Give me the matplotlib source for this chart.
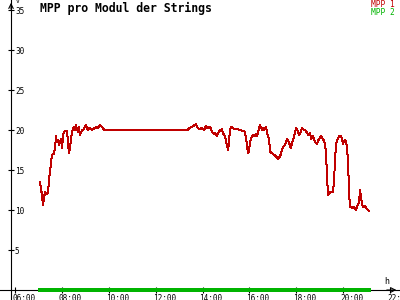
import matplotlib
matplotlib.use("Agg")
import matplotlib.pyplot as plt
import matplotlib.transforms as mtransforms

# MPP 1 string voltage per module (hour of day, volts)
mpp1_hours = [7.07, 7.11, 7.15, 7.19, 7.24, 7.28, 7.37, 7.41, 7.45, 7.49,
              7.54, 7.58, 7.66, 7.71, 7.75, 7.79, 7.83, 7.88, 7.92, 7.96,
              8.01, 8.05, 8.09, 8.22, 8.26, 8.30, 8.35, 8.43, 8.52, 8.56,
              8.60, 8.65, 8.69, 8.73, 8.77, 8.86, 8.90, 8.99, 9.03, 9.11,
              9.20, 9.28, 9.37, 9.46, 9.54, 9.63, 9.71, 9.80, 10.05, 13.38,
              13.42, 13.47, 13.55, 13.72, 13.81, 13.89, 13.98, 14.06, 14.15, 14.23,
              14.32, 14.40, 14.49, 14.53, 14.58, 14.62, 14.66, 14.75, 14.83, 14.87,
              14.96, 15.04, 15.09, 15.13, 15.17, 15.22, 15.30, 15.39, 15.47, 15.60,
              15.73, 15.81, 15.90, 15.94, 15.98, 16.03, 16.07, 16.15, 16.24, 16.28,
              16.32, 16.41, 16.45, 16.54, 16.58, 16.62, 16.71, 16.79, 16.84, 16.88,
              16.96, 17.05, 17.13, 17.22, 17.31, 17.43, 17.52, 17.60, 17.65, 17.73,
              17.77, 17.82, 17.90, 17.99, 18.03, 18.12, 18.20, 18.24, 18.33, 18.41,
              18.50, 18.59, 18.63, 18.71, 18.80, 18.88, 18.97, 19.05, 19.14, 19.23,
              19.27, 19.31, 19.35, 19.44, 19.57, 19.61, 19.65, 19.69, 19.74, 19.82,
              19.91, 19.95, 19.99, 20.03, 20.08, 20.12, 20.16, 20.21, 20.25, 20.29,
              20.38, 20.46, 20.51, 20.55, 20.59, 20.63, 20.68, 20.72, 20.76, 20.80,
              20.85, 20.93, 20.97, 21.06, 21.10]
mpp1_volts = [13.5, 12.4, 12.1, 10.6, 11.6, 12.2, 12.0, 12.2, 13.75, 14.8,
              16.0, 16.9, 17.0, 17.9, 19.2, 18.5, 18.75, 18.1, 18.5, 18.9,
              17.75, 19.4, 19.8, 19.9, 18.5, 17.1, 17.9, 19.8, 20.4, 20.0,
              20.6, 20.0, 19.8, 20.4, 19.4, 20.0, 20.0, 20.4, 20.6, 20.0,
              20.3, 20.0, 20.2, 20.4, 20.2, 20.6, 20.4, 20.0, 20.0, 20.0,
              20.2, 20.3, 20.4, 20.7, 20.2, 20.1, 20.3, 20.0, 20.5, 20.2,
              20.4, 19.8, 19.5, 19.6, 19.4, 19.2, 19.6, 20.0, 20.1, 19.6,
              19.2, 18.1, 17.5, 18.5, 20.0, 20.4, 20.2, 20.1, 20.1, 20.0,
              19.9, 19.8, 18.1, 17.1, 17.3, 18.5, 18.9, 19.4, 19.2, 19.5,
              19.2, 20.2, 20.6, 20.0, 20.2, 20.0, 20.4, 19.2, 18.9, 17.3,
              17.1, 16.9, 16.7, 16.4, 16.7, 17.9, 18.1, 18.9, 18.75, 18.1,
              17.7, 18.3, 19.2, 20.2, 20.1, 19.4, 19.8, 20.3, 20.0, 19.9,
              19.4, 19.6, 18.9, 19.2, 18.5, 18.3, 18.9, 19.2, 18.9, 18.3,
              16.9, 14.4, 11.9, 12.2, 12.3, 13.75, 16.0, 18.1, 18.75, 19.2,
              19.3, 18.9, 18.3, 18.5, 18.75, 18.5, 17.9, 16.0, 12.3, 10.4,
              10.3, 10.4, 10.1, 10.0, 10.5, 10.6, 11.0, 12.5, 11.6, 10.8,
              10.4, 10.5, 10.3, 10.0, 9.9]

# MPP 2 stays at zero the whole day
mpp2_hours = [7.07, 21.10]
mpp2_volts = [0.0, 0.0]

x_ticks = [6, 8, 10, 12, 14, 16, 18, 20, 22]
x_labels = ["06:00", "08:00", "10:00", "12:00", "14:00", "16:00", "18:00", "20:00", "22:"]
y_ticks = [5, 10, 15, 20, 25, 30, 35]

red = "#c00000"
green = "#00b400"
mono = "DejaVu Sans Mono"

fig = plt.figure(figsize=(4, 3), dpi=100)
fig.patch.set_facecolor("white")
ax = fig.add_axes([0, 0, 1, 1])
ax.set_facecolor("white")

ax.set_xlim(5.36, 22.425)
ax.set_ylim(-1.25, 36.25)

ax.plot(mpp2_hours, mpp2_volts, color=green, lw=1.6, antialiased=False, zorder=5)
ax.plot(mpp1_hours, mpp1_volts, color=red, lw=0.72, antialiased=False, zorder=4)

# axis lines through the origin, y labels on the right of the y axis
y_axis_x = 5.83
for side in ["top", "left"]:
    ax.spines[side].set_visible(False)
ax.spines["right"].set_position(("data", y_axis_x))
ax.spines["bottom"].set_position(("data", 0))
ax.spines["right"].set_linewidth(0.8)
ax.spines["bottom"].set_linewidth(0.8)
ax.yaxis.tick_right()

ax.set_yticks(y_ticks)
ax.set_yticklabels([str(v) for v in y_ticks])
ax.set_xticks(x_ticks)
ax.set_xticklabels(x_labels)
ax.tick_params(axis="both", direction="inout", length=4.5, width=0.8,
               labelsize=5.6, pad=0.6)
for lab in ax.get_yticklabels():
    lab.set_fontfamily(mono)
offset = mtransforms.ScaledTranslation(-3 / 100, 0, fig.dpi_scale_trans)
for lab in ax.get_xticklabels():
    lab.set_fontfamily(mono)
    lab.set_horizontalalignment("left")
    lab.set_transform(lab.get_transform() + offset)

# arrow heads
ax.annotate("", xy=(0.998, 0), xytext=(0.96, 0),
            xycoords=("axes fraction", "data"), textcoords=("axes fraction", "data"),
            arrowprops=dict(arrowstyle="->", lw=0.8, mutation_scale=8, color="black"))
ax.annotate("", xy=(y_axis_x, 1.0), xytext=(y_axis_x, 0.96),
            xycoords=("data", "axes fraction"), textcoords=("data", "axes fraction"),
            arrowprops=dict(arrowstyle="->", lw=0.8, mutation_scale=8, color="black"))

# unit labels
ax.text(16 / 400, 1 - 1.5 / 300, "V", transform=ax.transAxes, fontsize=4.5,
        family=mono, ha="left", va="center")
ax.text(387 / 400, 1 - 281 / 300, "h", transform=ax.transAxes, fontsize=6,
        family=mono, ha="center", va="center")

# title and legend
fig.text(40 / 400, 1 - 8 / 300, "MPP pro Modul der Strings", fontsize=8.3,
         family=mono, fontweight="bold", ha="left", va="center")
fig.text(395 / 400, 1 - 4.5 / 300, "MPP 1", fontsize=5.7, family=mono,
         color=red, ha="right", va="center")
fig.text(395 / 400, 1 - 12.5 / 300, "MPP 2", fontsize=5.7, family=mono,
         color=green, ha="right", va="center")

fig.savefig("out.png", dpi=100, facecolor=fig.get_facecolor())
